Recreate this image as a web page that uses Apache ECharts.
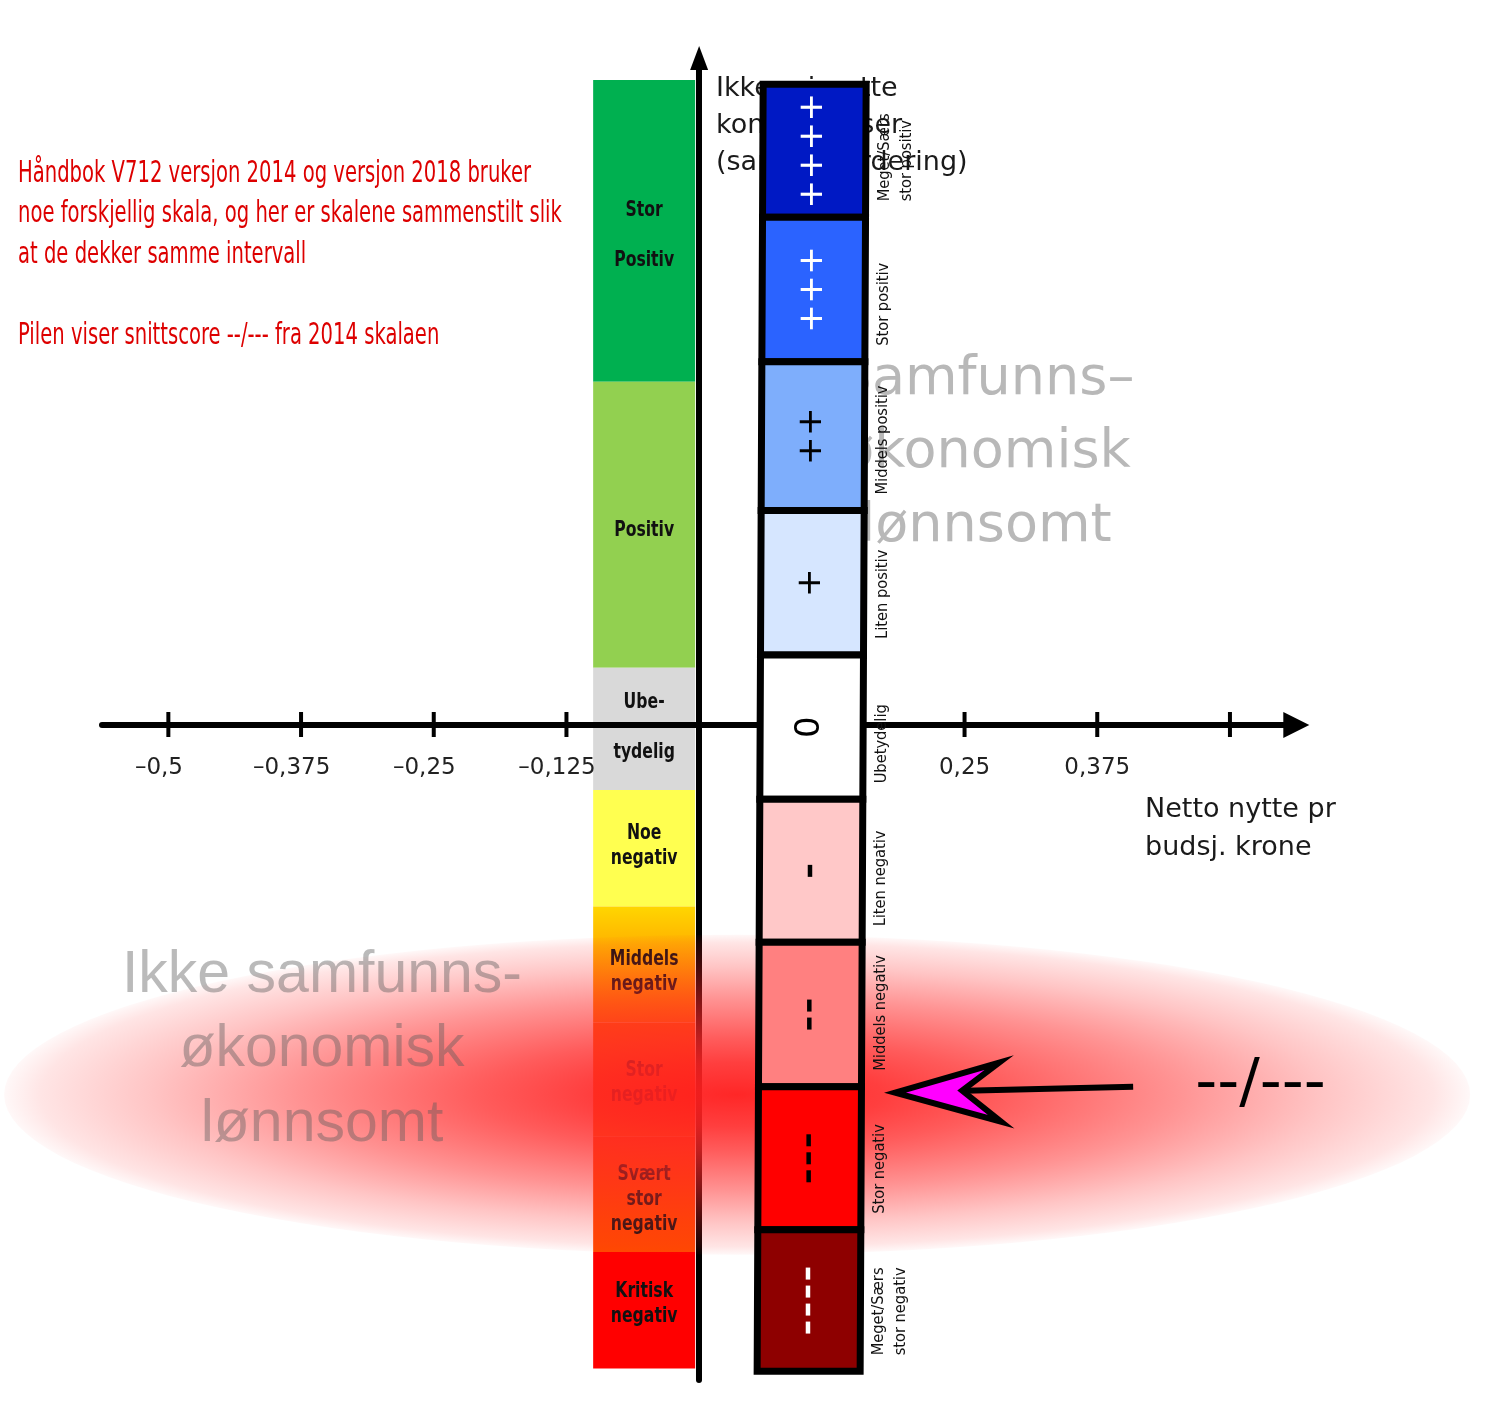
<!DOCTYPE html>
<html><head><meta charset="utf-8">
<script src="https://cdn.jsdelivr.net/npm/echarts@6/dist/echarts.min.js"></script>
<style>html,body{margin:0;padding:0;background:#fff}#chart{width:1502px;height:1410px}</style>
</head><body><div id="chart"></div>
<script>
// ================= DATA =================
const xTickValues  = [-0.5, -0.375, -0.25, -0.125, 0.125, 0.25, 0.375, 0.5];
const xLabelValues = [-0.5, -0.375, -0.25, -0.125, 0.25, 0.375];

// 2014 scale (left column), band boundaries top -> bottom (level units)
const scale2014Labels = ['Stor\n\nPositiv', 'Positiv', 'Ube-\n\ntydelig', 'Noe\nnegativ', 'Middels\nnegativ', 'Stor\nnegativ', 'Svært\nstor\nnegativ', 'Kritisk\nnegativ'];
const scale2014Bounds = [4.51, 2.40, 0.40, -0.455, -1.27, -2.08, -2.88, -3.685, -4.50];

// 2018 scale (right column), band boundaries top -> bottom (level units)
const scale2018Labels  = ['Meget/Særs\nstor positiv', 'Stor positiv', 'Middels positiv', 'Liten positiv', 'Ubetydelig', 'Liten negativ', 'Middels negativ', 'Stor negativ', 'Meget/Særs\nstor negativ'];
const scale2018Symbols = ['++++', '+++', '++', '+', '0', '-', '--', '---', '----'];
const scale2018Bounds  = [4.48, 3.55, 2.54, 1.50, 0.49, -0.52, -1.52, -2.53, -3.53, -4.52];

const meanScore = -2.55;          // snittscore "--/---"
const meanScoreLabel = '--/---';

const xAxisTitle = 'Netto nytte pr\nbudsj. krone';
const yAxisTitle = 'Ikke prissatte\nkonsekvenser\n(samlet vurdering)';
const noteLines = ['Håndbok V712 versjon 2014 og versjon 2018 bruker', 'noe forskjellig skala, og her er skalene sammenstilt slik', 'at de dekker samme intervall', '', 'Pilen viser snittscore --/--- fra 2014 skalaen'];
const negativeZoneLabel = 'Ikke samfunns-\nøkonomisk\nlønnsomt';
const positiveZoneLabel = 'Samfunns–\nøkonomisk\nlønnsomt';

// ================= STYLES / LAYOUT =================
const colors2014 = ['#00b050', '#92d050', '#d9d9d9', '#ffff50',
  {type:'linear', x:0, y:0, x2:0, y2:1, colorStops:[{offset:0,color:'#ffd600'},{offset:0.2,color:'#ffc000'},{offset:1,color:'#ff7400'}]},
  '#ff6000', '#ff4a00', '#ff0000'];
const labelDy2014 = [5, 6, -1, -2, 8, 3, 5, -6];
const colors2018 = ['#0019c4', '#2b63ff', '#7eaefc', '#d6e6ff', '#ffffff', '#ffc8c8', '#ff8080', '#ff0000', '#8e0000'];
const symColors2018 = ['#fff', '#fff', '#000', '#000', '#000', '#000', '#000', '#000', '#fff'];

const SANS = "'DejaVu Sans', 'Noto Sans', sans-serif";
const COND = "'DejaVu Sans Condensed', 'DejaVu Sans', sans-serif";
const ARIAL = "'Liberation Sans', Arial, sans-serif";

const AX = {xMin: -0.5625, xMax: 0.5625, yMin: -4.58, yMax: 4.664};
const PX_X = 1061.6, PX_Y = 143, GRID_LEFT = 102, Y0 = 725;
const GRID_TOP = Y0 - AX.yMax*PX_Y, GRID_H = (AX.yMax-AX.yMin)*PX_Y;
const X_AXIS_OFFSET = Y0 - (GRID_TOP + GRID_H);   // lift x axis to level 0

const mctx = document.createElement('canvas').getContext('2d');
function tw(text, font){ mctx.font = font; return mctx.measureText(text).width; }

const LEFT_FONT = "bold 21px " + COND;
const leftScale = 60 / tw('Positiv', LEFT_FONT);
const RIGHT_FONT = "16px " + COND;
const rightScale = 83 / tw('Stor positiv', RIGHT_FONT);
const NOTE_FONT = "30px " + COND;
const noteScale = 513 / tw(noteLines[0], NOTE_FONT);

// ================= SERIES =================
function leftCol(params, api){
  const i = params.dataIndex;
  const a = api.coord([0, api.value(1)]), b = api.coord([0, api.value(2)]);
  const x0 = a[0] - 106, x1 = a[0] - 4;
  return {type:'group', children:[
    {type:'rect', shape:{x:x0, y:a[1], width:x1-x0, height:b[1]-a[1]}, style:{fill: colors2014[i]}},
    {type:'text', x:(x0+x1)/2, y:(a[1]+b[1])/2 + labelDy2014[i], scaleX:leftScale,
     style:{text: scale2014Labels[i], font: LEFT_FONT, fill:'#111', align:'center', verticalAlign:'middle', textAlign:'center', textVerticalAlign:'middle', lineHeight:25}}
  ]};
}

function skew(y, topY){ return -(y - topY) * (6/1287); }

function rightCol(params, api){
  const i = params.dataIndex;
  const topRef = api.coord([0, scale2018Bounds[0]])[1];
  const a = api.coord([0, api.value(1)]), b = api.coord([0, api.value(2)]);
  const ax = a[0];
  const dT = skew(a[1], topRef), dB = skew(b[1], topRef);
  const xlT = ax + 64 + dT, xrT = ax + 167 + dT, xlB = ax + 64 + dB, xrB = ax + 167 + dB;
  const cy = (a[1]+b[1])/2, cx = (xlT + xrT + xlB + xrB)/4 - 1;
  const children = [
    {type:'polygon', shape:{points:[[xlT,a[1]],[xrT,a[1]],[xrB,b[1]],[xlB,b[1]]]},
     style:{fill: colors2018[i], stroke:'#000', lineWidth:7, lineJoin:'miter'}}
  ];
  const sym = scale2018Symbols[i];
  const n = sym.length;
  const step = sym[0] === '+' ? 29 : 18;
  for (let k = 0; k < n; k++){
    const yy = cy + (k - (n-1)/2) * step;
    if (sym[k] === '-') {
      // a minus sign turned on its side: short vertical bar
      children.push({type:'rect', shape:{x:cx - 2.25, y:yy - 6, width:4.5, height:12},
        style:{fill: symColors2018[i]}});
    } else {
      children.push({type:'text', x:cx, y:yy, rotation:Math.PI/2,
        style:{text: sym[k], font:'34px ' + SANS, fill: symColors2018[i],
          align:'center', verticalAlign:'middle', textAlign:'center', textVerticalAlign:'middle'}});
    }
  }
  children.push({type:'text', x: xrB + 8, y: b[1] - 16, rotation:Math.PI/2, scaleX:rightScale,
    style:{text: scale2018Labels[i], font: RIGHT_FONT, fill:'#111', align:'left', verticalAlign:'top', textAlign:'left', textVerticalAlign:'top', lineHeight:22}});
  return {type:'group', children};
}

function ticks(params, api){
  const p = api.coord([api.value(0), 0]);
  return {type:'line', shape:{x1:p[0], y1:p[1]-13, x2:p[0], y2:p[1]+12}, style:{stroke:'#000', lineWidth:4}};
}

function glow(params, api){
  const p = api.coord([0, api.value(1)]);
  const rx = 733, ry = 160;
  return {type:'circle', x: p[0] + 38, y: p[1] + 5, scaleY: ry/rx, shape:{cx:0, cy:0, r:rx},
    style:{fill:{type:'radial', x:0.5, y:0.5, r:0.5, colorStops:[
      {offset:0, color:'rgba(255,30,30,0.96)'},
      {offset:0.2, color:'rgba(255,36,36,0.88)'},
      {offset:0.35, color:'rgba(255,40,40,0.76)'},
      {offset:0.6, color:'rgba(255,40,40,0.50)'},
      {offset:0.8, color:'rgba(255,40,40,0.27)'},
      {offset:0.95, color:'rgba(255,40,40,0.12)'},
      {offset:1, color:'rgba(255,40,40,0.03)'}]}}};
}

function arrow(params, api){
  const p = api.coord([0, api.value(1)]);
  const tx = p[0] + 196, ty = p[1] + 3;
  return {type:'group', children:[
    {type:'polyline', shape:{points:[[tx+70, ty-2],[tx+238, ty-6]]}, style:{stroke:'#000', lineWidth:6, fill:null}},
    {type:'polygon', shape:{points:[[tx,ty],[tx+104,ty-30],[tx+67,ty-2],[tx+106,ty+29]]},
     style:{fill:'#ff00ff', stroke:'#000', lineWidth:6, lineJoin:'miter', miterLimit:10}},
    {type:'text', x: tx + 300, y: ty - 7,
     style:{text: meanScoreLabel, font:'61px ' + SANS, fill:'#000', align:'left', verticalAlign:'middle', textAlign:'left', textVerticalAlign:'middle'}}
  ]};
}

const leftData = scale2014Labels.map((l, i) => [0, scale2014Bounds[i], scale2014Bounds[i+1]]);
const rightData = scale2018Labels.map((l, i) => [0, scale2018Bounds[i], scale2018Bounds[i+1]]);

const fmt = v => {
  const num = String(Math.abs(v)).replace('.', ',');
  return v < 0 ? '{n|\u2013' + num + '}{h|\u2013 }' : '{n|' + num + '}';
};

const graphics = [];
noteLines.forEach((t, i) => {
  if (!t) return;
  graphics.push({type:'text', x:18, y:174 + i*40.5, scaleX:noteScale, z:6,
    style:{text:t, font:NOTE_FONT, fill:'#dd0000', align:'left', verticalAlign:'middle', textAlign:'left', textVerticalAlign:'middle'}});
});
graphics.push({type:'text', x:716, y:125.5, z:4,
  style:{text:yAxisTitle, font:'27px ' + SANS, fill:'#1a1a1a', lineHeight:37, align:'left', verticalAlign:'middle', textAlign:'left', textVerticalAlign:'middle'}});
graphics.push({type:'text', x:1145, y:829, z:6,
  style:{text:xAxisTitle, font:'27px ' + SANS, fill:'#1a1a1a', lineHeight:38, align:'left', verticalAlign:'middle', textAlign:'left', textVerticalAlign:'middle'}});
graphics.push({type:'text', x:322, y:1050, z:6,
  style:{text:negativeZoneLabel, font:'59px ' + ARIAL, fill:'rgba(90,90,90,0.42)', lineHeight:74.5, align:'center', verticalAlign:'middle', textAlign:'center', textVerticalAlign:'middle'}});
graphics.push({type:'text', x:986, y:453, z:4,
  style:{text:positiveZoneLabel, font:'54px ' + SANS, fill:'#b8b8b8', lineHeight:73.5, align:'center', verticalAlign:'middle', textAlign:'center', textVerticalAlign:'middle'}});

const option = {
  animation:false,
  backgroundColor:'#fff',
  grid:{left:GRID_LEFT, top:GRID_TOP, width:(AX.xMax-AX.xMin)*PX_X, height:GRID_H, containLabel:false, outerBoundsMode:'none'},
  xAxis:{type:'value', min:AX.xMin, max:AX.xMax, z:3, position:'bottom', offset:X_AXIS_OFFSET,
    axisLine:{onZero:false, symbol:['none','triangle'], symbolSize:[26,26], lineStyle:{color:'#000', width:6}},
    axisTick:{show:false}, splitLine:{show:false},
    axisLabel:{customValues:xLabelValues, formatter:fmt, margin:32,
      rich:{n:{fontSize:23, fontFamily:SANS, color:'#222'}, h:{fontSize:23, fontFamily:SANS, color:'rgba(0,0,0,0)'}}}},
  yAxis:{type:'value', min:AX.yMin, max:AX.yMax, z:3,
    axisLine:{onZero:true, symbol:['none','triangle'], symbolSize:[18,24], lineStyle:{color:'#000', width:6}},
    axisTick:{show:false}, axisLabel:{show:false}, splitLine:{show:false}},
  graphic:{elements:graphics},
  series:[
    {type:'custom', z:1, renderItem:leftCol, data:leftData, encode:{x:0, y:[1,2]}, silent:true},
    {type:'custom', z:3, renderItem:ticks, data:xTickValues.map(v => [v, 0]), encode:{x:0, y:1}, silent:true},
    {type:'custom', z:4, renderItem:glow, data:[[0, meanScore]], encode:{x:0, y:1}, silent:true},
    {type:'custom', z:5, renderItem:rightCol, data:rightData, encode:{x:0, y:[1,2]}, silent:true},
    {type:'custom', z:6, renderItem:arrow, data:[[0, meanScore]], encode:{x:0, y:1}, silent:true}
  ]
};
const chart = echarts.init(document.getElementById('chart'), null, {renderer:'canvas'});
chart.setOption(option);
</script></body></html>
